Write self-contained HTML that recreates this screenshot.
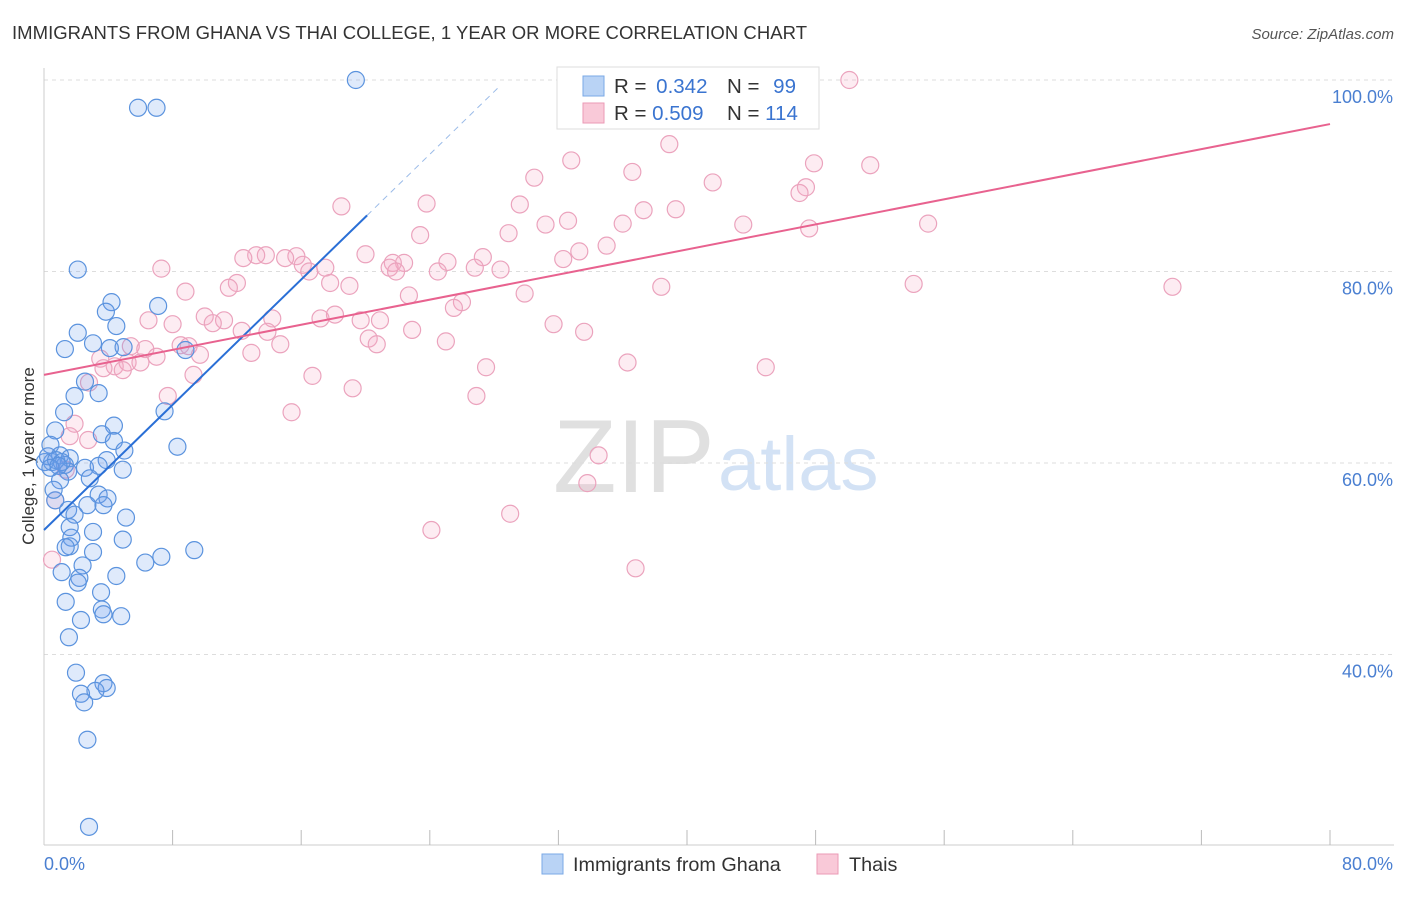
<!DOCTYPE html>
<html><head><meta charset="utf-8"><style>
body{margin:0;background:#fff;font-family:"Liberation Sans",sans-serif;}
svg text{font-family:"Liberation Sans",sans-serif;}
</style></head><body>
<svg id="chart" width="1406" height="892">
<text x="12" y="39" font-size="18.5" fill="#333" textLength="795">IMMIGRANTS FROM GHANA VS THAI COLLEGE, 1 YEAR OR MORE CORRELATION CHART</text>
<text x="1394" y="39" font-size="15" fill="#555" font-style="italic" text-anchor="end">Source: ZipAtlas.com</text>
<text x="34" y="456" font-size="17" fill="#333" text-anchor="middle" transform="rotate(-90 34 456)">College, 1 year or more</text>
<g>
<text x="553" y="492" font-size="104" fill="#e0e0e0" font-family="Liberation Serif">ZIP</text>
<text x="718" y="490" font-size="76" fill="#d3e2f5">atlas</text>
</g>
<g id="grid"></g><g id="ticks"></g><g id="pts"></g><g id="lines"></g>
<g>
<rect x="557" y="67" width="262" height="62" fill="#fff" stroke="#ddd"/>
<rect x="583" y="76" width="21" height="20" fill="#b9d3f5" stroke="#7aa8e6"/>
<text x="614" y="93" font-size="20.5" fill="#333">R = <tspan fill="#3a74d0" dx="4">0.342</tspan></text>
<text x="727" y="93" font-size="20.5" fill="#333">N = <tspan fill="#3a74d0" dx="8">99</tspan></text>
<rect x="583" y="103" width="21" height="20" fill="#f9c9d8" stroke="#eb9ab6"/>
<text x="614" y="120" font-size="20.5" fill="#333">R = <tspan fill="#3a74d0">0.509</tspan></text>
<text x="727" y="120" font-size="20.5" fill="#333">N = <tspan fill="#3a74d0">114</tspan></text>
</g>
<g>
<rect x="542" y="854" width="21" height="20" fill="#b9d3f5" stroke="#7aa8e6"/>
<text x="573" y="871" font-size="19.8" fill="#333">Immigrants from Ghana</text>
<rect x="817" y="854" width="21" height="20" fill="#f9c9d8" stroke="#eb9ab6"/>
<text x="849" y="871" font-size="19.8" fill="#333">Thais</text>
</g>
</svg>
<script>
const yTicks=[100,80,60,40];
const xTickLabels=["0.0%","80.0%"];
const blueX=[19.4,5.85,7.0,2.1,4.2,7.1,3.85,4.5,2.1,1.3,3.05,4.1,4.95,8.8,2.55,3.4,1.9,1.25,7.5,4.35,0.7,3.6,4.35,8.3,5.0,0.4,1.0,1.6,0.5,0.05,1.3,3.9,2.55,3.4,4.9,1.5,1.0,2.85,0.7,3.4,3.95,2.7,3.7,1.5,1.9,5.1,1.6,3.05,1.7,4.9,1.6,1.35,3.05,9.35,7.3,6.3,2.4,1.1,4.5,2.2,2.1,1.35,3.55,3.6,3.7,4.8,2.3,1.55,1.99,3.7,3.9,3.2,2.3,2.5,2.7,2.8,0.25,0.75,1.1,0.4,0.9,0.6];
const blueY=[100,97.1,97.1,80.2,76.8,76.4,75.8,74.3,73.6,71.9,72.5,72.0,72.1,71.8,68.5,67.3,67.0,65.3,65.4,63.9,63.4,63.0,62.3,61.7,61.3,61.9,60.8,60.5,60.1,60.1,59.8,60.3,59.5,59.7,59.3,59.1,58.2,58.4,56.1,56.7,56.3,55.6,55.6,55.1,54.6,54.3,53.3,52.8,52.2,52.0,51.3,51.2,50.7,50.9,50.2,49.6,49.3,48.6,48.2,48.0,47.5,45.5,46.5,44.7,44.2,44.0,43.6,41.8,38.1,37.0,36.5,36.2,35.9,35.0,31.1,22.0,60.7,60.3,60.1,59.5,59.7,57.2];
const pinkX=[50.1,38.9,32.8,47.9,51.4,30.5,36.6,41.6,47.4,47.0,18.5,23.8,29.6,37.3,39.3,31.2,32.6,36.0,43.5,47.6,55.0,28.9,23.4,35.0,33.3,32.3,27.3,20.0,22.4,21.7,15.7,15.0,17.5,13.8,13.2,12.4,25.1,26.8,28.4,24.5,21.5,21.9,16.1,16.5,7.3,12.0,11.5,17.8,19.0,8.8,22.7,29.9,38.4,54.1,70.2,26.0,25.5,10.0,6.5,11.2,14.2,17.2,18.1,19.7,20.9,8.0,10.5,31.7,12.3,13.9,22.9,33.6,8.5,9.0,14.7,20.2,20.7,25.0,5.4,6.3,7.0,9.7,12.9,3.5,4.4,5.2,6.0,3.7,4.9,36.3,44.9,27.5,9.3,16.7,2.8,19.2,7.7,26.9,15.4,1.9,2.75,1.6,34.5,33.8,29.0,24.1,36.8,0.7,0.5,1.35];
const pinkY=[100,93.3,91.6,91.3,91.1,89.8,90.4,89.3,88.8,88.2,86.8,87.1,87.0,86.4,86.5,84.9,85.3,85.0,84.9,84.5,85.0,84.0,83.8,82.7,82.1,81.3,81.5,81.8,80.9,80.9,81.6,81.4,80.4,81.7,81.7,81.4,81.0,80.4,80.2,80.0,80.4,80.0,80.7,80.0,80.3,78.8,78.3,78.8,78.5,77.9,77.5,77.7,78.4,78.7,78.4,76.8,76.2,75.3,74.9,74.9,75.1,75.1,75.5,74.9,74.9,74.5,74.6,74.5,73.8,73.7,73.9,73.7,72.3,72.2,72.4,73.0,72.4,72.7,72.2,71.9,71.1,71.3,71.5,70.9,70.1,70.5,70.5,69.9,69.7,70.5,70.0,70.0,69.2,69.1,68.4,67.8,67.0,67.0,65.3,64.1,62.4,62.8,60.8,57.9,54.7,53.0,49.0,56.1,49.9,59.3];
const blueFit=[53.0,1.635]; const pinkFit=[69.2,0.3275];
const X=v=>44+v*16.075, Y=v=>80+(100-v)*9.575;
const NS="http://www.w3.org/2000/svg";
function mk(tag,attrs,parent){const e=document.createElementNS(NS,tag);for(const k in attrs)e.setAttribute(k,attrs[k]);document.getElementById(parent).appendChild(e);return e;}
yTicks.forEach(t=>{
 const l=mk('line',{x1:44,x2:1394,y1:Y(t),y2:Y(t),stroke:'#ddd','stroke-dasharray':'4,4'},'grid');
 
 
 const tx=mk('text',{x:1393,y:Y(t)+23,'font-size':18,fill:'#4a7fd1','text-anchor':'end'},'grid');
 tx.textContent=t.toFixed(1)+'%';
 
 
});
const ax=mk('line',{x1:44,x2:44,y1:68,y2:845,stroke:'#ccc'},'ticks');


const bx=mk('line',{x1:44,x2:1394,y1:845,y2:845,stroke:'#ccc'},'ticks');


for(let i=1;i<=10;i++){
 const t=mk('line',{x1:X(i*8),x2:X(i*8),y1:830,y2:845,stroke:'#bbb'},'ticks');
 
 
}
const xl0=mk('text',{x:44,y:870,'font-size':18,fill:'#4a7fd1'},'ticks');xl0.textContent=xTickLabels[0];


const xl1=mk('text',{x:1393,y:870,'font-size':18,fill:'#4a7fd1','text-anchor':'end'},'ticks');xl1.textContent=xTickLabels[1];


pinkX.forEach((v,i)=>{
 const c=mk('circle',{cx:X(v),cy:Y(pinkY[i]),r:8.5,fill:'rgba(245,170,195,0.22)',stroke:'#eba3bd','stroke-width':1.2},'pts');
 
 
});
blueX.forEach((v,i)=>{
 const c=mk('circle',{cx:X(v),cy:Y(blueY[i]),r:8.5,fill:'rgba(110,160,235,0.22)',stroke:'#5b93de','stroke-width':1.2},'pts');
 
 
});
const bl=mk('line',{x1:X(0),y1:Y(blueFit[0]),x2:X(20.1),y2:Y(blueFit[0]+blueFit[1]*20.1),stroke:'#2a6fd6','stroke-width':2},'lines');


const bd=mk('line',{x1:X(20.1),y1:Y(blueFit[0]+blueFit[1]*20.1),x2:X(28.4),y2:Y(blueFit[0]+blueFit[1]*28.4),stroke:'#9bbbe8','stroke-width':1,'stroke-dasharray':'6,5'},'lines');


const pl=mk('line',{x1:X(0),y1:Y(pinkFit[0]),x2:X(80),y2:Y(pinkFit[0]+pinkFit[1]*80),stroke:'#e8628f','stroke-width':2},'lines');


</script>
</body></html>
